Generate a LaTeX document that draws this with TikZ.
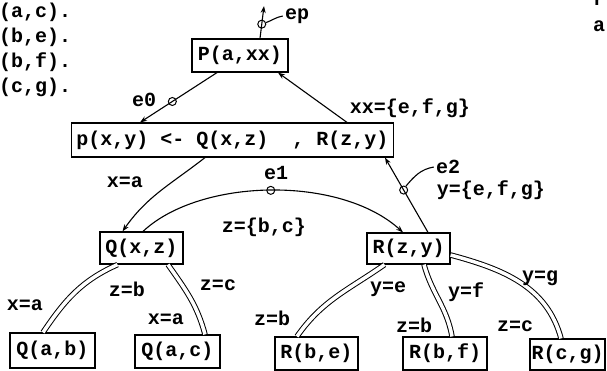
\documentclass[tikz,border=0pt]{standalone}
\usepackage{fontspec}
\newfontfamily\monof{Liberation Mono Bold}
\usetikzlibrary{arrows.meta,calc}
\begin{document}
\begin{tikzpicture}[x=1pt,y=-1pt,
  every node/.style={font=\monof\fontsize{20}{24}\selectfont},
  box/.style={draw, line width=1.2pt, inner sep=0pt, rectangle},
  lbl/.style={inner sep=0pt},
  ecirc/.style={draw, circle, inner sep=0pt, minimum size=8pt, line width=1pt},
  conn/.style={line width=1.1pt},
  arr/.style={-{Stealth[length=7pt,width=5pt]}},
  dbl/.style={double, double distance=3.5pt, line width=1pt}]
\useasboundingbox (0,0) rectangle (607,370);
\clip (0,0) rectangle (607,370);
% facts at the top left
\node[lbl, anchor=west] (f1) at (-1,12) {(a,c).};
\node[lbl, anchor=west] (f2) at (-1,37) {(b,e).};
\node[lbl, anchor=west] (f3) at (-1,62) {(b,f).};
\node[lbl, anchor=west] (f4) at (-1,87) {(c,g).};
\node[lbl, anchor=base west] (r1) at (593,5) {r};
\node[lbl, anchor=base west] (a1) at (593,31) {a};
% boxes
\node[box, minimum width=96pt, minimum height=33pt] (P) at (240,55.5) {P(a,xx)};
\node[box, minimum width=322pt, minimum height=34pt] (p) at (232.5,140) {p(x,y)\ <-\ Q(x,z)\ \ ,\ R(z,y)};
\node[box, minimum width=83pt, minimum height=32pt] (Qxz) at (141.5,248) {Q(x,z)};
\node[box, minimum width=83pt, minimum height=31pt] (Rzy) at (408.5,248.5) {R(z,y)};
\node[box, minimum width=85pt, minimum height=35pt] (Qab) at (52.5,350.5) {Q(a,b)};
\node[box, minimum width=85pt, minimum height=33pt] (Qac) at (177.5,351.5) {Q(a,c)};
\node[box, minimum width=83pt, minimum height=33pt] (Rbe) at (316.5,353.5) {R(b,e)};
\node[box, minimum width=84pt, minimum height=33pt] (Rbf) at (445,353.5) {R(b,f)};
\node[box, minimum width=75pt, minimum height=31pt] (Rcg) at (567.5,354.5) {R(c,g)};
% ep
\coordinate (ept) at (264,6);
\draw[conn, arr] ([xshift=20pt]P.north) -- (ept) node[ecirc, pos=0.44] (epc) {};
\node[lbl] (epl) at (297,16) {ep};
\draw[conn] (epc.20) to[out=20, in=190] ([xshift=-2pt]epl.west);
% e0
\draw[conn, arr] ([xshift=-23pt]P.south) -- ([xshift=-92.5pt]p.north) node[ecirc, pos=0.58] (e0c) {};
\node[lbl] (e0l) at (144,100) {e0};
% answer up
\draw[conn, arr] ([xshift=114.5pt]p.north) -- ([xshift=38pt]P.south);
\node[lbl] (xxl) at (410,108) {xx=\{e,f,g\}};
% p -> Q(x,z)
\draw[conn, arr] ([xshift=-27.5pt]p.south) to[out=218, in=55] ([xshift=-19pt]Qxz.north);
\node[lbl] (l1) at (125,182) {x=a};
% e1
\draw[conn, arr] ([xshift=1.5pt]Qxz.north) .. controls (200,178) and (340,175) .. ([xshift=-5.5pt]Rzy.north) node[ecirc, pos=0.5] (e1c) {};
\node[lbl] (e1l) at (276,173) {e1};
\node[lbl] (l2) at (264,227) {z=\{b,c\}};
% e2
\draw[conn, arr] ([xshift=19.5pt]Rzy.north) -- ([xshift=152.5pt]p.south) node[ecirc, pos=0.566] (e2c) {};
\node[lbl] (e2l) at (448,167) {e2};
\node[lbl] (l3) at (491,190) {y=\{e,f,g\}};
\draw[conn] (e2c.60) to[out=50, in=190] ([xshift=-2pt]e2l.west);
% double edges
\draw[dbl] ([xshift=-24pt]Qxz.south) to[out=204, in=56] ([xshift=-9.5pt]Qab.north);
\draw[dbl] ([xshift=26.5pt]Qxz.south) to[out=-55, in=105] ([xshift=27.5pt]Qac.north);
\draw[dbl] ([xshift=-24pt]Rzy.south) to[out=215, in=55] ([xshift=-19.5pt]Rbe.north);
\draw[dbl] ([xshift=15.5pt]Rzy.south) to[out=-75, in=100] ([xshift=7pt]Rbf.north);
\draw[dbl] ([yshift=-6.5pt]Rzy.east) to[out=-15, in=105] ([xshift=-6.5pt]Rcg.north);
% labels of double edges
\node[lbl] (l4) at (25,305) {x=a};
\node[lbl] (l5) at (127,289) {z=b};
\node[lbl] (l6) at (166,319) {x=a};
\node[lbl] (l7) at (218,285) {z=c};
\node[lbl] (l8) at (272,318) {z=b};
\node[lbl] (l9) at (388,289) {y=e};
\node[lbl] (l10) at (414,325) {z=b};
\node[lbl] (l11) at (466,292) {y=f};
\node[lbl] (l12) at (515,326) {z=c};
\node[lbl] (l13) at (540,278) {y=g};
\end{tikzpicture}
\end{document}
